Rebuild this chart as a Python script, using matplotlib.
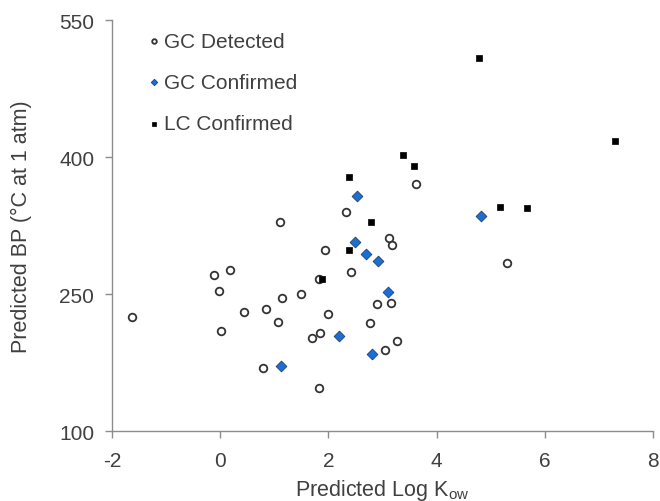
import matplotlib
matplotlib.use("Agg")
import matplotlib.pyplot as plt

plt.rcParams['font.family'] = ['Liberation Sans', 'DejaVu Sans']

# GC Detected (open circles)
det_x = [1.11, -0.11, 0.18, -0.02, 1.14, 1.49, -1.63, 0.43, 0.85, 1.07, 0.01, 0.79,
         3.62, 2.33, 3.12, 3.18, 1.94, 2.41, 1.83, 2.89, 3.16, 1.99, 2.77, 1.70,
         1.85, 3.26, 3.05, 1.83, 5.31]
det_y = [329, 271, 277, 254, 246, 250, 225, 231, 234, 220, 210, 169,
         371, 340, 311, 304, 298, 274, 267, 239, 240, 228, 218, 202,
         207, 199, 189, 147, 284]

# GC Confirmed (blue diamonds)
gcc_x = [1.12, 2.52, 2.50, 2.69, 2.92, 3.11, 2.19, 2.81, 4.82]
gcc_y = [171, 357, 307, 294, 286, 252, 204, 185, 336]

# LC Confirmed (black squares)
lcc_x = [3.38, 3.58, 2.39, 2.79, 2.39, 1.88, 4.78, 7.31, 5.18, 5.68]
lcc_y = [402, 390, 378, 329, 298, 267, 509, 418, 345, 344]

xticks = [-2, 0, 2, 4, 6, 8]
yticks = [100, 250, 400, 550]

fig = plt.figure(figsize=(6.6, 5.02), dpi=100)
ax = fig.add_axes([0.170, 0.139, 0.819, 0.819])

ax.scatter(det_x, det_y, s=30, marker='o', facecolors='white',
           edgecolors='#333333', linewidths=1.3, label='GC Detected', zorder=3)
ax.scatter(gcc_x, gcc_y, s=30, marker='D', facecolors='#1a6fd6',
           edgecolors='#1f3f6f', linewidths=0.6, label='GC Confirmed', zorder=4)
ax.scatter(lcc_x, lcc_y, s=16, marker='s', facecolors='black',
           edgecolors='black', linewidths=0.5, label='LC Confirmed', zorder=5)

ax.set_xlim(-2, 8)
ax.set_ylim(100, 550)
ax.set_xticks(xticks)
ax.set_yticks(yticks)
ax.set_xticklabels([str(t) for t in xticks])
ax.set_yticklabels([str(t) for t in yticks])

for s in ['top', 'right']:
    ax.spines[s].set_visible(False)
for s in ['left', 'bottom']:
    ax.spines[s].set_color('#8c8c8c')
    ax.spines[s].set_linewidth(1.0)

ax.tick_params(axis='both', colors='#8c8c8c', labelcolor='#404040',
               labelsize=15, length=5, width=1.0, direction='out')
ax.tick_params(axis='y', pad=8)
ax.tick_params(axis='x', pad=9)

ax.set_xlabel('Predicted Log K$_{\\mathregular{ow}}$', fontsize=15.5, color='#404040', labelpad=5)
ax.set_ylabel('Predicted BP (°C at 1 atm)', fontsize=15.5, color='#404040')
ax.yaxis.set_label_coords(-0.148, 0.5)

leg = ax.legend(loc='upper left', bbox_to_anchor=(0.065, 0.972), frameon=False,
                fontsize=15, labelspacing=1.07, handlelength=0.6,
                handletextpad=0.2, markerscale=0.6, borderaxespad=0, borderpad=0)
for t in leg.get_texts():
    t.set_color('#404040')

fig.savefig('out.png', dpi=100)
